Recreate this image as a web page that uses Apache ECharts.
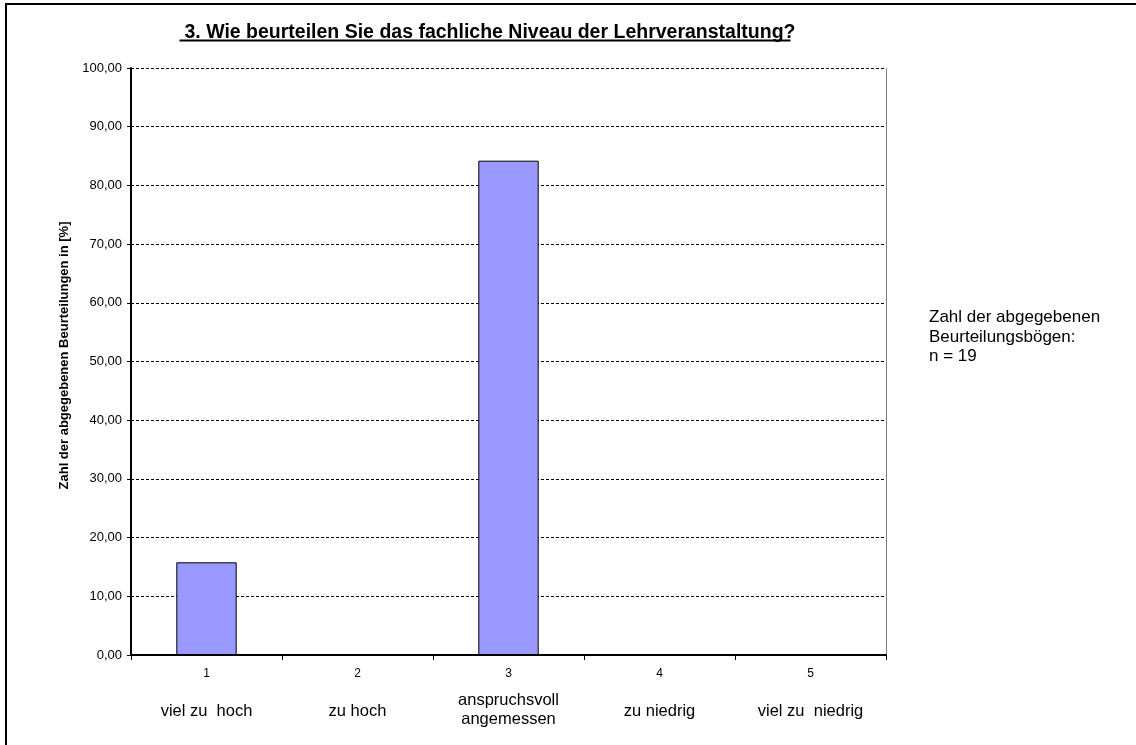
<!DOCTYPE html>
<html>
<head>
<meta charset="utf-8">
<script src="https://cdn.jsdelivr.net/npm/echarts@6/dist/echarts.min.js"></script>
<style>
html,body{margin:0;padding:0;background:#fff;}
#c{width:1136px;height:745px;}
</style>
</head>
<body>
<div id="c"></div>
<script>
const titleText = '3. Wie beurteilen Sie das fachliche Niveau der Lehrveranstaltung?';
const categoryNumbers = ['1', '2', '3', '4', '5'];
const categoryNames = ['viel zu  hoch', 'zu hoch', 'anspruchsvoll\nangemessen', 'zu niedrig', 'viel zu  niedrig'];
const percentValues = [15.79, 0, 84.21, 0, 0];
const yAxisTitle = 'Zahl der abgegebenen Beurteilungen in [%]';
const noteLines = ['Zahl der abgegebenen', 'Beurteilungsbögen:', 'n = 19'];

const FONT = '"Liberation Sans", Arial, sans-serif';
const chart = echarts.init(document.getElementById('c'));

const gridLeft = 131, gridRight = 886, gridTop = 68, gridBottom = 655;
const TITLE_SIZE = 19.5;

chart.setOption({
  animation: false,
  backgroundColor: '#ffffff',
  title: {
    text: titleText,
    left: 485,
    textAlign: 'center',
    top: 18,
    textStyle: { fontFamily: FONT, fontSize: TITLE_SIZE, fontWeight: 'bold', color: '#000' }
  },
  grid: { left: gridLeft, right: 1136 - gridRight, top: gridTop, bottom: 745 - gridBottom, containLabel: false },
  xAxis: {
    type: 'category',
    data: categoryNumbers,
    boundaryGap: true,
    axisLine: { show: true, lineStyle: { color: '#000', width: 2 } },
    axisTick: { show: true, length: 5, alignWithLabel: false, lineStyle: { color: '#000', width: 1 } },
    axisLabel: {
      interval: 0,
      margin: 9,
      formatter: function (v, i) {
        const name = categoryNames[i];
        if (name.indexOf('\n') >= 0) {
          const parts = name.split('\n');
          return '{n|' + v + '}\n{ta|' + parts[0] + '}\n{tb|' + parts[1] + '}';
        }
        return '{n|' + v + '}\n{t|' + name + '}';
      },
      rich: {
        n: { fontFamily: FONT, fontSize: 12, color: '#000', lineHeight: 20 },
        t: { fontFamily: FONT, fontSize: 16.5, color: '#000', lineHeight: 54 },
        ta: { fontFamily: FONT, fontSize: 16.5, color: '#000', lineHeight: 32 },
        tb: { fontFamily: FONT, fontSize: 16.5, color: '#000', lineHeight: 6 }
      }
    },
    splitLine: { show: false }
  },
  yAxis: {
    type: 'value',
    min: 0,
    max: 100,
    interval: 10,
    name: yAxisTitle,
    nameLocation: 'middle',
    nameGap: 59,
    nameRotate: 90,
    nameTextStyle: { fontFamily: FONT, fontSize: 13, fontWeight: 'bold', color: '#000', padding: [0, 0, 0, 12] },
    axisLine: { show: true, lineStyle: { color: '#000', width: 2 } },
    axisTick: { show: true, length: 4, inside: false, lineStyle: { color: '#000', width: 1 } },
    axisLabel: {
      margin: 9,
      fontFamily: FONT, fontSize: 13, color: '#000',
      formatter: v => v.toFixed(2).replace('.', ',')
    },
    splitLine: { show: true, lineStyle: { color: '#000', width: 1, type: [3, 2] } }
  },
  series: [{
    type: 'bar',
    data: percentValues,
    barWidth: '40%',
    itemStyle: { color: '#9999FF', borderColor: '#000', borderWidth: 1 },
    silent: true
  }],
  graphic: [
    { type: 'line', shape: { x1: 5, y1: 4, x2: 1136, y2: 4 }, style: { stroke: '#000', lineWidth: 2 } },
    { type: 'line', shape: { x1: 6, y1: 4, x2: 6, y2: 745 }, style: { stroke: '#000', lineWidth: 2 } },
    { type: 'line', shape: { x1: gridRight + 0.5, y1: gridTop, x2: gridRight + 0.5, y2: gridBottom }, style: { stroke: '#808080', lineWidth: 1 } },
    { type: 'text', left: 929, top: 308, style: { text: noteLines.join('\n'), fontFamily: FONT, fontSize: 17, lineHeight: 19.5, fill: '#000' } },
    { type: 'line', id: 'ul', shape: { x1: 176, y1: 40.5, x2: 795, y2: 40.5 }, style: { stroke: '#000', lineWidth: 2 } }
  ]
});

(function () {
  const ctx = document.createElement('canvas').getContext('2d');
  ctx.font = 'bold ' + TITLE_SIZE + 'px ' + FONT;
  const w = ctx.measureText(titleText).width;
  chart.setOption({ graphic: [{ id: 'ul', type: 'line', shape: { x1: 485 - w / 2, y1: 40.5, x2: 485 + w / 2, y2: 40.5 }, style: { stroke: '#000', lineWidth: 2 } }] });
})();
</script>
</body>
</html>
